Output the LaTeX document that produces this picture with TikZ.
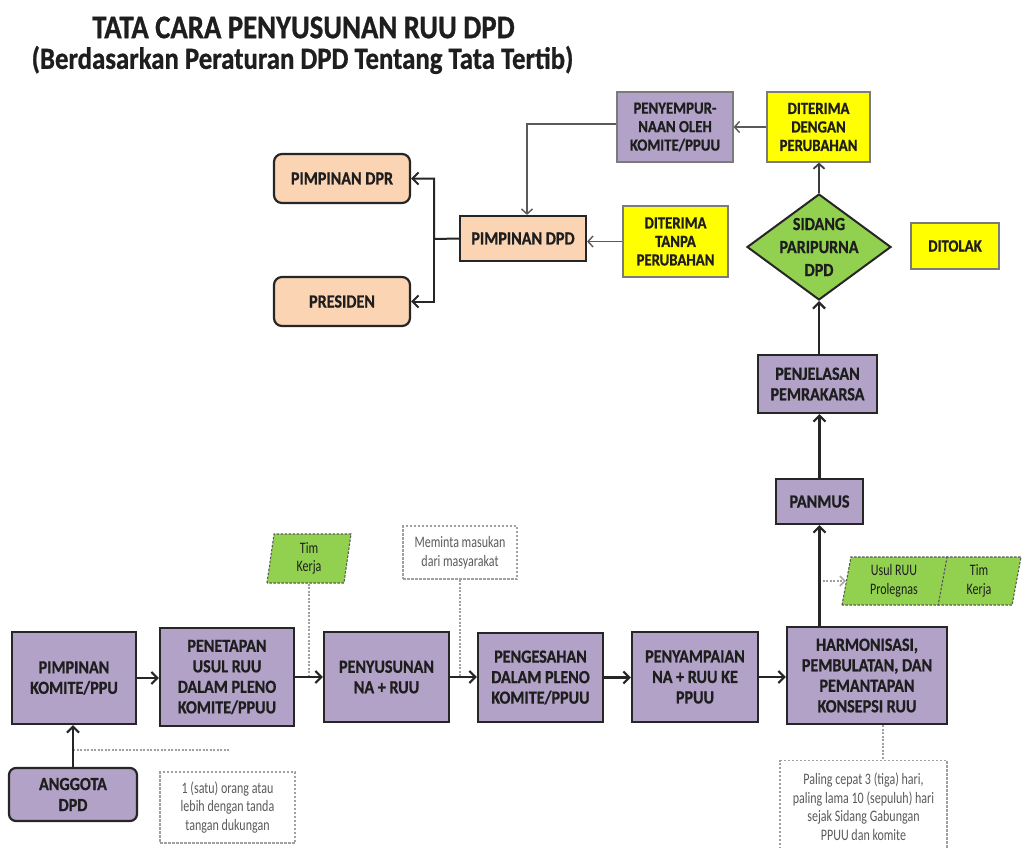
\documentclass[tikz,border=0pt]{standalone}
\usepackage{fontspec}
\setmainfont{Carlito}[FakeStretch=0.87, BoldFeatures={FakeBold=0.8}]
\newfontfamily\notefont{Carlito}[FakeStretch=0.75]
\usetikzlibrary{arrows.meta,shapes.geometric,calc}
\definecolor{purp}{HTML}{B3A2C7}
\definecolor{peach}{HTML}{FBD4B4}
\definecolor{yel}{HTML}{FFFF00}
\definecolor{grn}{HTML}{92D050}
\definecolor{txt}{HTML}{1E1E1E}
\definecolor{bord}{HTML}{262626}
\definecolor{dgray}{HTML}{5A5A5A}
\definecolor{lgray}{HTML}{A0A0A0}
\begin{document}
\begin{tikzpicture}[x=1pt,y=-1pt,
  lbl/.style={font=\bfseries\fontsize{18.5}{20.5}\selectfont, text=txt, align=center, inner sep=0pt},
  mainbox/.style={lbl, draw=bord, line width=2.2pt, fill=purp},
  roundbox/.style={mainbox, rounded corners=7pt},
  peachbox/.style={mainbox, fill=peach},
  softbox/.style={font=\bfseries\fontsize{17}{18.5}\selectfont, text=txt, align=center, inner sep=0pt, draw=dgray!80, line width=1.2pt},
  notetxt/.style={font=\notefont\fontsize{16}{18.6}\selectfont, text=dgray, align=center, inner sep=0pt},
  notebox/.style={notetxt, draw=lgray, line width=1.2pt, dash pattern=on 2.5pt off 1.5pt},
  para/.style={notetxt, text=txt, shape=trapezium, trapezium left angle=79, trapezium right angle=101, trapezium stretches body=true, fill=grn, draw=dgray, line width=1.1pt, dash pattern=on 2.5pt off 1.5pt, inner sep=2pt},
  arr/.style={draw=bord, line width=2.2pt, -{Straight Barb[length=6pt,width=12pt]}},
  thinarr/.style={draw=dgray, line width=1.4pt, -{Straight Barb[length=5pt,width=11pt]}},
  dotline/.style={draw=lgray, line width=1.4pt, dash pattern=on 2pt off 1.5pt},
  dotarr/.style={dotline, -{Straight Barb[length=5pt,width=10pt]}}
]
\fill[white] (0,0) rectangle (1030,848);
\useasboundingbox (0,0) rectangle (1030,848);

% title
\node[font=\bfseries\fontsize{33}{36}\selectfont, text=txt, inner sep=0pt] (t1) at (303.5,27.5) {TATA CARA PENYUSUNAN RUU DPD};
\node[font=\bfseries\fontsize{30.8}{36}\selectfont, text=txt, inner sep=0pt] (t2) at (302.5,60) {(Berdasarkan Peraturan DPD Tentang Tata Tertib)};

% bottom row
\node[mainbox, minimum width=124pt, minimum height=92pt] (kom) at (74,678) {PIMPINAN\\KOMITE/PPU};
\node[roundbox, font=\bfseries\fontsize{18.5}{21}\selectfont, minimum width=128pt, minimum height=53pt] (ang) at (73,794.5) {ANGGOTA\\DPD};
\node[mainbox, minimum width=134pt, minimum height=98pt] (pen) at (227,677) {PENETAPAN\\USUL RUU\\DALAM PLENO\\KOMITE/PPUU};
\node[mainbox, minimum width=125pt, minimum height=90pt] (nyu) at (386.5,677) {PENYUSUNAN\\NA + RUU};
\node[mainbox, minimum width=125pt, minimum height=89pt] (sah) at (540.5,677.5) {PENGESAHAN\\DALAM PLENO\\KOMITE/PPUU};
\node[mainbox, minimum width=126pt, minimum height=90pt] (sam) at (695,677) {PENYAMPAIAN\\NA + RUU KE\\PPUU};
\node[mainbox, minimum width=160pt, minimum height=97pt] (harm) at (867,675.5) {HARMONISASI,\\PEMBULATAN, DAN\\PEMANTAPAN\\KONSEPSI RUU};

% right column
\node[mainbox, minimum width=87pt, minimum height=45pt] (panmus) at (819.5,501.5) {PANMUS};
\node[mainbox, minimum width=119pt, minimum height=58pt] (penj) at (817.5,384) {PENJELASAN\\PEMRAKARSA};
\node[shape=diamond, draw=bord, line width=2pt, fill=grn, minimum width=144pt, minimum height=106pt, inner sep=0pt,
  label={[lbl, font=\bfseries\fontsize{18.5}{23}\selectfont]center:SIDANG\\PARIPURNA\\DPD}] (sid) at (819,247) {};
\node[softbox, fill=yel, minimum width=103pt, minimum height=70pt] (dengan) at (818.5,127) {DITERIMA\\DENGAN\\PERUBAHAN};
\node[softbox, fill=yel, minimum width=88pt, minimum height=46pt] (ditolak) at (955,246) {DITOLAK};
\node[softbox, fill=yel, minimum width=105pt, minimum height=71pt] (tanpa) at (675.5,241.5) {DITERIMA\\TANPA\\PERUBAHAN};
\node[softbox, fill=purp, minimum width=116pt, minimum height=70pt] (sempurna) at (675,127) {PENYEMPUR-\\NAAN OLEH\\KOMITE/PPUU};

% top left
\node[peachbox, minimum width=126pt, minimum height=45pt] (dpd) at (523,238.5) {PIMPINAN DPD};
\node[peachbox, rounded corners=8pt, minimum width=136pt, minimum height=49pt] (dpr) at (342,178.5) {PIMPINAN DPR};
\node[peachbox, rounded corners=8pt, minimum width=136pt, minimum height=49pt] (pres) at (342,301.5) {PRESIDEN};

% notes and inputs
\node[para, minimum width=84pt, minimum height=49pt] (tk) at (309,558.5) {Tim\\Kerja};
\node[notebox, minimum width=114pt, minimum height=53pt] (minta) at (460,552.5) {Meminta masukan\\dari masyarakat};
\node[notebox, minimum width=135pt, minimum height=71pt] (note1) at (227.5,807.5) {1 (satu) orang atau\\lebih dengan tanda\\tangan dukungan};
\node[notebox, minimum width=167pt, minimum height=92pt, anchor=north] (note2) at (863.5,760) {Paling cepat 3 (tiga) hari,\\paling lama 10 (sepuluh) hari\\sejak Sidang Gabungan\\PPUU dan komite};
\node[para, minimum width=179pt, minimum height=48pt, text height=21pt, text depth=21pt] (usul) at (931.5,581) {};
\node[notetxt, text=txt] (usulA) at (894,581) {Usul RUU\\Prolegnas};
\node[notetxt, text=txt] (usulB) at (979,581) {Tim\\Kerja};
\draw[draw=dgray, line width=1.1pt, dash pattern=on 2.5pt off 1.5pt]
  ($(usul.top left corner)!0.565!(usul.top right corner)$) -- ($(usul.bottom left corner)!0.565!(usul.bottom right corner)$);

% dotted connectors
\draw[dotline] (tk.south) -- (tk.south |- pen.east);
\draw[dotline] (minta.south) -- (minta.south |- nyu.east);
\coordinate (dA) at (229,750);
\draw[dotline] (ang.north |- dA) -- (dA);
\draw[dotline] ([xshift=16pt]harm.south) -- ([xshift=16pt]harm.south |- note2.north);
\draw[dotarr] ([xshift=3pt]usul.west -| panmus.south) -- (usul.west);

% main arrows
\draw[arr] (kom.east) -- (kom.east -| pen.west);
\draw[arr] (pen.east) -- (pen.east -| nyu.west);
\draw[arr] (nyu.east) -- (nyu.east -| sah.west);
\draw[arr] (sah.east) -- (sah.east -| sam.west);
\draw[arr] (sam.east) -- (sam.east -| harm.west);
\draw[arr] (ang.north) -- (ang.north |- kom.south);
\draw[arr] (panmus.south |- harm.north) -- (panmus.south);
\draw[arr] (panmus.north) -- (panmus.north |- penj.south);
\draw[arr] (sid.south |- penj.north) -- (sid.south);
\draw[thinarr, draw=bord!90, line width=1.8pt] (sid.north) -- (sid.north |- dengan.south);

% top arrows
\draw[thinarr] (dengan.west) -- (dengan.west -| sempurna.east);
\draw[thinarr] ([yshift=3pt]sempurna.west) -| ([xshift=4pt]dpd.north);
\draw[thinarr] (tanpa.west) -- (tanpa.west -| dpd.east);
\coordinate (j) at (434,239);
\draw[arr, line width=2pt] (dpd.west) -- (j) |- (dpr.east);
\draw[arr, line width=2pt] (j) |- (pres.east);
\end{tikzpicture}
\end{document}
